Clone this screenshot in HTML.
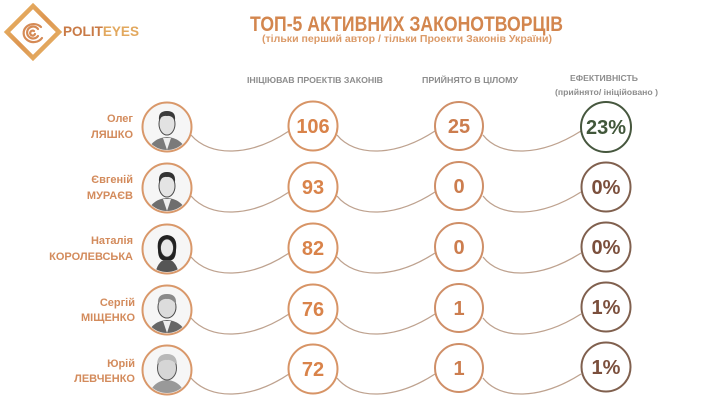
<!DOCTYPE html>
<html>
<head>
<meta charset="utf-8">
<style>
html,body{margin:0;padding:0;background:#fff;}
svg{display:block;}
text{font-family:"Liberation Sans","DejaVu Sans",sans-serif;font-weight:bold;}
</style>
</head>
<body>
<svg width="720" height="405" viewBox="0 0 720 405" xmlns="http://www.w3.org/2000/svg">
<defs>
  <linearGradient id="lg" x1="0" y1="0" x2="1" y2="1">
    <stop offset="0" stop-color="#e9b868"/>
    <stop offset="0.5" stop-color="#dd9550"/>
    <stop offset="1" stop-color="#e8b86a"/>
  </linearGradient>
  <clipPath id="c1"><circle cx="167" cy="127" r="23"/></clipPath>
  <clipPath id="c2"><circle cx="167" cy="188" r="23"/></clipPath>
  <clipPath id="c3"><circle cx="167" cy="249" r="23"/></clipPath>
  <clipPath id="c4"><circle cx="167" cy="310" r="23"/></clipPath>
  <clipPath id="c5"><circle cx="167" cy="370" r="23"/></clipPath>
</defs>
<rect width="720" height="405" fill="#ffffff"/>

<!-- Logo -->
<polygon points="33,6 59,32 33,58 7,32" fill="none" stroke="url(#lg)" stroke-width="4.5" stroke-linejoin="miter"/>
<g fill="none" stroke="#d58a55" stroke-width="2.2" stroke-linecap="round">
  <path d="M41,27 A10,9 0 1 0 42,38"/>
  <path d="M38,29 A6,6 0 1 0 38,36"/>
  <path d="M34,31 A2.5,2.5 0 1 0 35,34"/>
</g>
<text x="63" y="36" font-size="14" textLength="76" lengthAdjust="spacingAndGlyphs"><tspan fill="#c97a45">POLIT</tspan><tspan fill="#e2a85e">EYES</tspan></text>

<!-- Title -->
<text x="250" y="31" font-size="21" fill="#d3864e" textLength="313" lengthAdjust="spacingAndGlyphs">ТОП-5 АКТИВНИХ ЗАКОНОТВОРЦІВ</text>
<text x="262" y="42" font-size="10.5" fill="#db9a68" textLength="290" lengthAdjust="spacingAndGlyphs">(тільки перший автор / тільки Проекти Законів України)</text>

<!-- Column headers -->
<g fill="#8d8d8d" font-size="8.5">
  <text x="247" y="83" textLength="136" lengthAdjust="spacingAndGlyphs">ІНІЦІЮВАВ ПРОЕКТІВ ЗАКОНІВ</text>
  <text x="422" y="83" textLength="96" lengthAdjust="spacingAndGlyphs">ПРИЙНЯТО В ЦІЛОМУ</text>
  <text x="570" y="81" font-size="8" textLength="68" lengthAdjust="spacingAndGlyphs">ЕФЕКТИВНІСТЬ</text>
  <text x="555" y="95" font-size="8" textLength="103" lengthAdjust="spacingAndGlyphs">(прийнято/ ініційовано )</text>
</g>

<!-- Connecting curves -->
<g fill="none" stroke="#bea28f" stroke-width="1.3">
  <path d="M191,135 C210,157 250,157 289,131"/>
  <path d="M337,135 C355,157 395,157 435,131"/>
  <path d="M483,135 C500,157 540,157 581,131"/>

  <path d="M191,196 C210,218 250,218 289,192"/>
  <path d="M337,196 C355,218 395,218 435,192"/>
  <path d="M483,196 C500,218 540,218 581,192"/>

  <path d="M191,257 C210,279 250,279 289,253"/>
  <path d="M337,257 C355,279 395,279 435,253"/>
  <path d="M483,257 C500,279 540,279 581,253"/>

  <path d="M191,318 C210,340 250,340 289,314"/>
  <path d="M337,318 C355,340 395,340 435,314"/>
  <path d="M483,318 C500,340 540,340 581,314"/>

  <path d="M191,378 C210,400 250,400 289,374"/>
  <path d="M337,378 C355,400 395,400 435,374"/>
  <path d="M483,378 C500,400 540,400 581,374"/>
</g>

<!-- Names -->
<g fill="#d38b5c" font-size="11" text-anchor="end">
  <text x="133" y="122">Олег</text>
  <text x="133" y="138">ЛЯШКО</text>
  <text x="133" y="183">Євгеній</text>
  <text x="133" y="199">МУРАЄВ</text>
  <text x="133" y="244">Наталія</text>
  <text x="133" y="260">КОРОЛЕВСЬКА</text>
  <text x="135" y="306">Сергій</text>
  <text x="135" y="321">МІЩЕНКО</text>
  <text x="135" y="367">Юрій</text>
  <text x="135" y="382">ЛЕВЧЕНКО</text>
</g>

<!-- Photo circles -->
<g>
  <!-- row 1 -->
  <circle cx="167" cy="127" r="24.5" fill="#f6f6f6" stroke="#d9986a" stroke-width="2"/>
  <g clip-path="url(#c1)">
    <path d="M147,152 Q152,138 167,137 Q182,138 187,152 Z" fill="#7a7a7a"/>
    <path d="M163,138 L167,150 L171,138 Z" fill="#eee"/>
    <ellipse cx="167" cy="124" rx="8" ry="11" fill="#e2e2e2" stroke="#4a4a4a" stroke-width="1"/>
    <path d="M159,120 Q158,111 167,111 Q176,111 175,120 Q171,115 167,116 Q162,115 159,120 Z" fill="#3a3a3a"/>
  </g>
  <!-- row 2 -->
  <circle cx="167" cy="188" r="24.5" fill="#f6f6f6" stroke="#d9986a" stroke-width="2"/>
  <g clip-path="url(#c2)">
    <path d="M147,213 Q152,199 167,198 Q182,199 187,213 Z" fill="#6e6e6e"/>
    <path d="M163,199 L167,211 L171,199 Z" fill="#eee"/>
    <ellipse cx="167" cy="186" rx="8" ry="11" fill="#e4e4e4" stroke="#4a4a4a" stroke-width="1"/>
    <path d="M159,182 Q158,172 167,172 Q176,172 175,182 Q171,176 167,177 Q162,176 159,182 Z" fill="#333"/>
  </g>
  <!-- row 3 -->
  <circle cx="167" cy="249" r="24.5" fill="#f6f6f6" stroke="#d9986a" stroke-width="2"/>
  <g clip-path="url(#c3)">
    <path d="M155,274 Q158,260 167,259 Q176,260 179,274 Z" fill="#555"/>
    <path d="M158,250 Q156,236 167,235 Q178,236 176,250 Q176,258 172,260 L162,260 Q158,258 158,250 Z" fill="#222"/>
    <ellipse cx="167" cy="248" rx="6.5" ry="9" fill="#e8e8e8" stroke="#333" stroke-width="0.8"/>
  </g>
  <!-- row 4 -->
  <circle cx="167" cy="310" r="24.5" fill="#f6f6f6" stroke="#d9986a" stroke-width="2"/>
  <g clip-path="url(#c4)">
    <path d="M147,335 Q152,321 167,320 Q182,321 187,335 Z" fill="#666"/>
    <path d="M163,321 L167,333 L171,321 Z" fill="#eee"/>
    <ellipse cx="167" cy="307" rx="9" ry="11" fill="#dcdcdc" stroke="#4a4a4a" stroke-width="1"/>
    <path d="M158,304 Q157,294 167,294 Q177,294 176,304 Q171,298 167,299 Q162,298 158,304 Z" fill="#8a8a8a"/>
  </g>
  <!-- row 5 -->
  <circle cx="167" cy="370" r="24.5" fill="#f6f6f6" stroke="#d9986a" stroke-width="2"/>
  <g clip-path="url(#c5)">
    <path d="M149,395 Q153,381 167,380 Q181,381 185,395 Z" fill="#999"/>
    <ellipse cx="167" cy="368" rx="9.5" ry="12" fill="#d6d6d6" stroke="#555" stroke-width="1"/>
    <path d="M157,365 Q157,354 167,354 Q177,354 177,365 Q172,359 167,360 Q162,359 157,365 Z" fill="#b8b8b8"/>
  </g>
</g>

<!-- Count circles -->
<g fill="#ffffff" stroke="#d79466" stroke-width="2">
  <circle cx="313" cy="126" r="24.5"/>
  <circle cx="313" cy="187" r="24.5"/>
  <circle cx="313" cy="248" r="24.5"/>
  <circle cx="313" cy="309" r="24.5"/>
  <circle cx="313" cy="369" r="24.5"/>
</g>
<g fill="#d9834a" font-size="20" text-anchor="middle">
  <text x="313" y="133">106</text>
  <text x="313" y="194">93</text>
  <text x="313" y="255">82</text>
  <text x="313" y="316">76</text>
  <text x="313" y="376">72</text>
</g>

<!-- Adopted circles -->
<g fill="#ffffff" stroke="#cf8f68" stroke-width="2">
  <circle cx="459" cy="126" r="24"/>
  <circle cx="459" cy="186" r="24"/>
  <circle cx="459" cy="247" r="24"/>
  <circle cx="459" cy="308" r="24"/>
  <circle cx="459" cy="368" r="24"/>
</g>
<g fill="#cc7d4e" font-size="20" text-anchor="middle">
  <text x="459" y="133">25</text>
  <text x="459" y="193">0</text>
  <text x="459" y="254">0</text>
  <text x="459" y="315">1</text>
  <text x="459" y="375">1</text>
</g>

<!-- Efficiency circles -->
<circle cx="606" cy="127" r="25" fill="#fff" stroke="#46573e" stroke-width="2"/>
<g fill="#ffffff" stroke="#80604e" stroke-width="2">
  <circle cx="606" cy="187" r="24.5"/>
  <circle cx="606" cy="247" r="24.5"/>
  <circle cx="606" cy="307" r="24.5"/>
  <circle cx="606" cy="367" r="24.5"/>
</g>
<text x="606" y="134" fill="#41573a" font-size="20" text-anchor="middle">23%</text>
<g fill="#7b4f3c" font-size="20" text-anchor="middle">
  <text x="606" y="194">0%</text>
  <text x="606" y="254">0%</text>
  <text x="606" y="314">1%</text>
  <text x="606" y="374">1%</text>
</g>
</svg>
</body>
</html>
